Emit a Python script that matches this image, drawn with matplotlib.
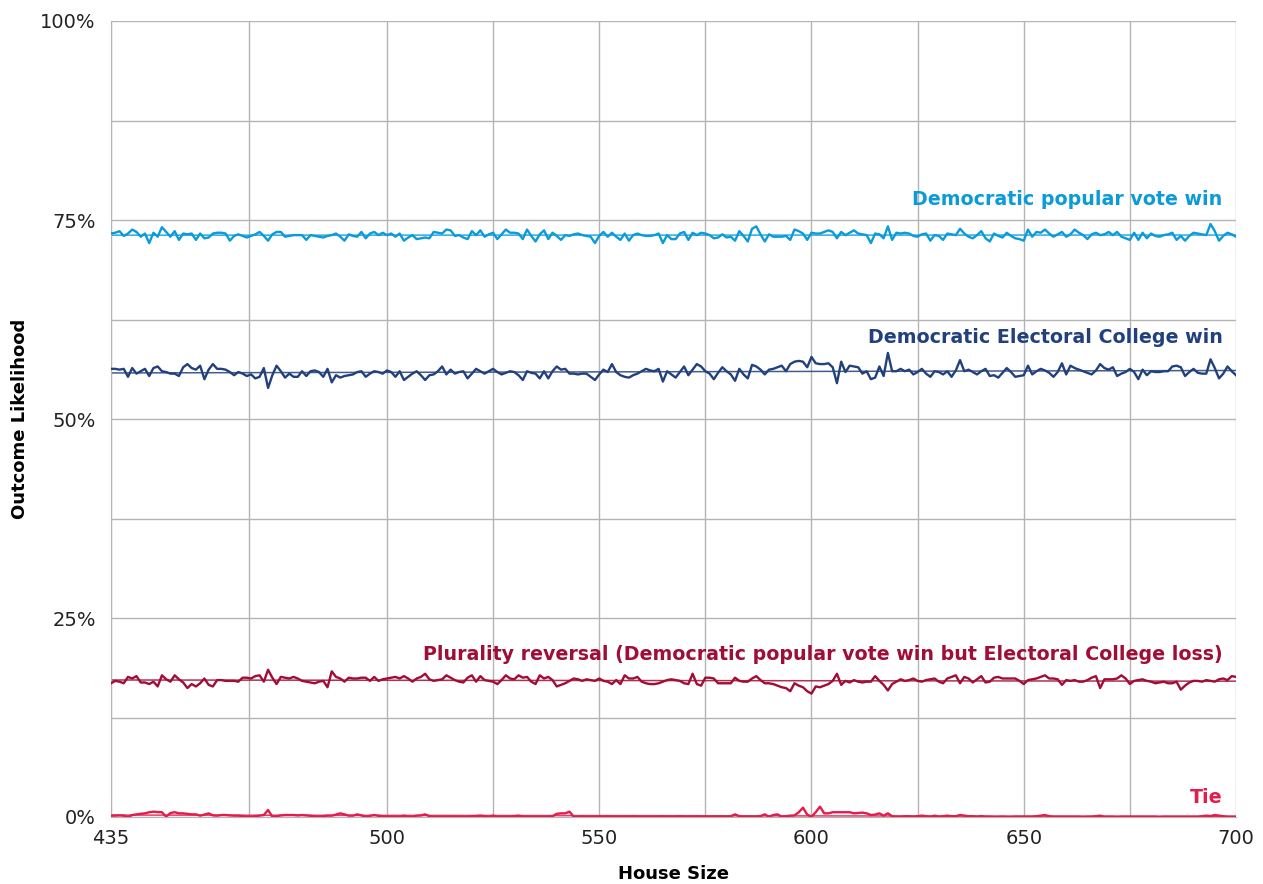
import numpy as np
import matplotlib
matplotlib.use("Agg")
import matplotlib.pyplot as plt
from matplotlib.ticker import FixedLocator, FuncFormatter

plt.rcParams['font.family'] = ['DejaVu Sans']

# house sizes 435..700
house = np.arange(435, 701)

# outcome likelihoods in %
pop_win = [
    73.3, 73.4, 73.6, 73.0, 73.3, 73.8, 73.5, 72.9, 73.3, 72.1,
    73.4, 72.9, 74.1, 73.5, 72.9, 73.6, 72.5, 73.3, 73.2, 73.3,
    72.5, 73.3, 72.7, 72.8, 73.3, 73.4, 73.4, 73.3, 72.4, 73.0,
    73.2, 73.0, 72.8, 73.0, 73.2, 73.5, 73.0, 72.4, 73.2, 73.5,
    73.5, 72.9, 73.0, 73.1, 73.1, 73.1, 72.5, 73.1, 73.0, 72.9,
    72.8, 73.0, 73.1, 73.3, 72.9, 72.4, 73.2, 73.0, 72.9, 73.5,
    72.7, 73.3, 73.5, 73.1, 73.4, 73.1, 73.3, 72.9, 73.3, 72.4,
    72.8, 73.1, 72.6, 72.7, 72.8, 72.7, 73.5, 73.4, 73.3, 73.8,
    73.7, 73.0, 73.1, 72.8, 72.6,
    73.6, 73.1, 73.7, 72.9, 73.2, 73.4, 72.6, 73.2, 73.8, 73.4,
    73.4, 73.3, 72.6, 73.8, 73.0, 72.3, 73.2, 73.7, 72.6, 73.4,
    73.0, 72.5, 73.1, 73.0, 73.2, 73.3, 73.1, 73.0, 72.9, 72.1,
    73.0, 73.5, 72.9, 73.4, 72.9, 72.5, 73.3, 72.4, 73.1, 73.3,
    73.1, 73.0, 73.0, 73.1, 73.3, 72.1, 73.1, 72.6, 72.6, 73.3,
    73.5, 72.5, 73.4, 73.1, 73.4, 73.3, 73.1, 72.7, 72.8, 73.2,
    72.8, 72.9, 72.4, 73.6, 73.0, 72.3, 73.9, 74.2, 73.2, 72.3,
    73.2, 72.9, 72.9, 72.9, 73.0, 72.5, 73.8, 73.6, 73.3, 72.5,
    73.4, 73.3, 73.3, 73.5, 73.7, 73.5, 72.7, 73.5, 73.1, 73.4,
    73.7, 73.3, 73.2, 73.1, 72.1, 73.3, 73.2, 72.7, 74.2, 72.5,
    73.4, 73.3, 73.4, 73.3, 73.0, 72.9, 73.2, 73.3, 72.4, 73.1,
    73.0, 72.5, 73.3, 73.2, 73.1, 73.9, 73.3, 72.9, 72.7, 73.1,
    73.6, 72.7, 72.3, 73.3, 73.0, 72.8, 73.4, 73.0, 72.7, 72.6,
    72.4, 73.8, 72.9, 73.5, 73.4, 73.8, 73.3, 72.9, 73.2, 73.5,
    72.9, 73.2, 73.8, 73.4, 73.1, 72.6, 73.2, 73.4, 73.1, 73.2,
    73.5, 73.1, 73.5, 72.9, 72.7, 72.5, 73.4, 72.5, 73.4, 72.7,
    73.3, 73.0, 72.9, 73.1, 73.2, 73.4, 72.5, 73.0, 72.4, 73.0,
    73.4, 73.3, 73.2, 73.1, 74.5, 73.6, 72.4, 73.0, 73.4, 73.2,
    72.9,
]

ec_win = [
    56.3, 56.3, 56.2, 56.3, 55.3, 56.4, 55.7, 56.0, 56.3, 55.4,
    56.4, 56.6, 56.0, 55.9, 55.7, 55.7, 55.4, 56.5, 56.9, 56.4,
    56.2, 56.7, 55.0, 56.2, 56.9, 56.3, 56.3, 56.2, 55.9, 55.5,
    55.9, 55.7, 55.4, 55.6, 55.1, 55.3, 56.4, 53.9, 55.5, 56.7,
    56.0, 55.2, 55.7, 55.3, 55.3, 56.0, 55.4, 56.0, 56.1, 55.9,
    55.3, 56.3, 54.6, 55.5, 55.2, 55.4, 55.5, 55.6, 55.9, 56.0,
    55.3, 55.7, 56.0, 55.9, 55.7, 56.1, 55.9, 55.3, 56.0, 54.9,
    55.3, 55.7, 56.0, 55.5, 54.9, 55.5, 55.6, 56.0, 56.6, 55.6,
    56.2, 55.7, 55.9, 56.0, 55.1, 55.7, 56.3, 56.0, 55.7, 56.0,
    56.3, 55.9, 55.6, 55.8, 56.0, 55.9, 55.5, 54.9, 56.0, 55.8,
    55.7, 55.1, 56.0, 55.1, 56.0, 56.6, 56.2, 56.3, 55.7, 55.7,
    55.6, 55.7, 55.7, 55.3, 54.9, 55.6, 56.2, 55.9, 56.9, 55.9,
    55.5, 55.3, 55.2, 55.5, 55.7, 56.0, 56.3, 56.1, 56.0, 56.3,
    54.7, 56.0, 55.6, 55.2, 55.9, 56.6, 55.5, 56.2, 56.9, 56.6,
    56.0, 55.7, 55.0, 55.8, 56.5, 56.0, 55.6, 54.8, 56.3, 55.6,
    55.1, 56.8, 56.6, 56.2, 55.6, 56.2, 56.3, 56.5, 56.7, 56.0,
    56.9, 57.2, 57.3, 57.2, 56.5, 57.8, 57.0, 56.9, 56.9, 57.0,
    56.5, 54.5, 57.2, 55.9, 56.7, 56.6, 56.5, 55.7, 56.0, 55.0,
    55.2, 56.6, 55.4, 58.3, 56.0, 56.0, 56.3, 56.0, 56.2, 55.6,
    55.9, 56.3, 55.7, 55.3, 56.0, 55.9, 55.6, 56.0, 55.3, 56.1,
    57.4, 56.0, 56.2, 55.9, 55.6, 56.0, 56.3, 55.4, 55.5, 55.2,
    55.8, 56.4, 55.9, 55.3, 55.4, 55.5, 56.7, 55.6, 56.0, 56.3,
    56.1, 55.8, 55.3, 55.9, 57.0, 55.6, 56.7, 56.4, 56.2, 56.0,
    55.8, 55.6, 56.1, 56.9, 56.4, 56.2, 56.5, 55.4, 55.7, 55.9,
    56.3, 55.9, 55.0, 56.2, 55.5, 56.0, 55.9, 55.9, 56.0, 56.0,
    56.6, 56.7, 56.5, 55.4, 55.9, 56.3, 55.8, 55.7, 55.7, 57.5,
    56.4, 55.1, 55.7, 56.6, 56.0, 55.5,
]

reversal = [
    16.8, 17.1, 17.0, 16.8, 17.6, 17.4, 17.7, 16.9, 16.9, 16.7,
    17.0, 16.4, 17.8, 17.3, 17.0, 17.8, 17.3, 16.9, 16.2, 16.7,
    16.4, 16.8, 17.4, 16.6, 16.4, 17.2, 17.2, 17.1, 17.1, 17.1,
    17.0, 17.5, 17.5, 17.4, 17.7, 17.8, 17.0, 18.5, 17.5, 16.7,
    17.6, 17.5, 17.4, 17.6, 17.4, 17.1, 17.0, 16.9, 16.8, 17.0,
    17.1, 16.3, 18.3, 17.6, 17.4, 17.0, 17.5, 17.4, 17.4, 17.5,
    17.5, 17.1, 17.6, 17.1, 17.3, 17.4, 17.5, 17.6, 17.4, 17.7,
    17.4, 17.0, 17.4, 17.6, 18.0, 17.3, 17.1, 17.2, 17.3, 17.8,
    17.5, 17.2, 17.0, 16.9, 17.5, 17.8, 17.0, 17.7, 17.2, 17.1,
    17.0, 16.7, 17.2, 17.8, 17.4, 17.3, 17.8, 17.5, 17.6, 17.0,
    16.7, 17.8, 17.4, 17.6, 17.2, 16.4, 16.6, 16.8, 17.1, 17.4,
    17.3, 17.1, 17.3, 17.2, 17.1, 17.4, 17.1, 17.0, 16.7, 17.2,
    16.7, 17.8, 17.4, 17.4, 17.6, 17.0, 16.8, 16.7, 16.7, 16.8,
    17.0, 17.2, 17.3, 17.2, 17.1, 16.8, 16.7, 18.0, 16.7, 16.5,
    17.5, 17.5, 17.4, 16.8, 16.8, 16.8, 16.8, 17.5, 17.1, 17.0,
    17.0, 17.4, 17.7, 17.2, 16.8, 16.8, 16.7, 16.5, 16.3, 16.2,
    15.8, 16.8, 16.5, 16.3, 15.8, 15.5, 16.4, 16.3, 16.5, 16.7,
    17.1, 18.0, 16.6, 17.1, 16.9, 17.2, 17.0, 16.9, 17.0, 17.0,
    17.7, 17.1, 16.6, 15.9, 16.7, 17.0, 17.3, 17.1, 17.2, 17.4,
    17.1, 17.0, 17.2, 17.3, 17.4, 17.0, 16.8, 17.4, 17.6, 17.8,
    16.8, 17.6, 17.4, 16.9, 17.3, 17.7, 16.9, 17.0, 17.5, 17.6,
    17.4, 17.4, 17.4, 17.4, 17.1, 16.7, 17.2, 17.3, 17.4, 17.6,
    17.8, 17.4, 17.4, 17.3, 16.6, 17.2, 17.1, 17.2, 17.0, 17.0,
    17.2, 17.5, 17.7, 16.2, 17.3, 17.3, 17.3, 17.4, 17.8, 17.4,
    16.7, 17.1, 17.2, 17.3, 17.1, 17.0, 16.8, 16.9, 17.0, 16.8,
    16.8, 17.0, 16.0, 16.5, 16.9, 17.1, 17.1, 17.0, 17.2, 17.1,
    17.0, 17.3, 17.4, 17.2, 17.7, 17.6,
]

tie = [
    0.17, 0.17, 0.20, 0.17, 0.00, 0.25, 0.33, 0.40, 0.46, 0.60,
    0.67, 0.62, 0.60, 0.04, 0.50, 0.60, 0.46, 0.46, 0.40, 0.33,
    0.33, 0.17, 0.30, 0.46, 0.20, 0.17, 0.25, 0.25, 0.20, 0.17,
    0.17, 0.12, 0.04, 0.00, 0.10, 0.17, 0.25, 0.88, 0.04, 0.10,
    0.20, 0.25, 0.25, 0.25, 0.20, 0.25, 0.20, 0.15, 0.08, 0.04,
    0.10, 0.17, 0.17, 0.30, 0.46, 0.33, 0.17, 0.17, 0.33, 0.20,
    0.04, 0.15, 0.25, 0.15, 0.10, 0.04, 0.08, 0.04, 0.04, 0.17,
    0.04, 0.04, 0.17, 0.20, 0.33, 0.10, 0.04, 0.04, 0.04, 0.04,
    0.04, 0.04, 0.04, 0.04, 0.04, 0.10, 0.12, 0.17, 0.10, 0.04,
    0.17, 0.04, 0.04, 0.04, 0.04, 0.10, 0.17, 0.04, 0.04, 0.04,
    0.04, 0.04, 0.04, 0.04, 0.10, 0.40, 0.46, 0.46, 0.67, 0.04,
    0.04, 0.08, 0.04, 0.04, 0.04, 0.04, 0.04, 0.08, 0.04, 0.04,
    0.04, 0.04, 0.04, 0.08, 0.04, 0.04, 0.04, 0.04, 0.04, 0.04,
    0.08, 0.04, 0.04, 0.04, 0.10, 0.04, 0.04, 0.04, 0.08, 0.04,
    0.04, 0.04, 0.04, 0.04, 0.04, 0.04, 0.10, 0.33, 0.10, 0.04,
    0.04, 0.04, 0.04, 0.12, 0.33, 0.04, 0.25, 0.33, 0.04, 0.10,
    0.17, 0.20, 0.60, 1.17, 0.30, 0.04, 0.60, 1.30, 0.46, 0.46,
    0.60, 0.60, 0.60, 0.60, 0.60, 0.46, 0.50, 0.55, 0.46, 0.25,
    0.30, 0.46, 0.17, 0.46, 0.10, 0.04, 0.04, 0.10, 0.10, 0.04,
    0.10, 0.17, 0.10, 0.04, 0.17, 0.04, 0.10, 0.17, 0.10, 0.10,
    0.25, 0.17, 0.10, 0.10, 0.04, 0.12, 0.04, 0.04, 0.00, 0.00,
    0.04, 0.00, 0.00, 0.04, 0.04, 0.04, 0.04, 0.04, 0.10, 0.17,
    0.25, 0.10, 0.04, 0.04, 0.04, 0.04, 0.04, 0.04, 0.04, 0.00,
    0.04, 0.04, 0.10, 0.17, 0.04, 0.04, 0.04, 0.00, 0.04, 0.04,
    0.04, 0.04, 0.04, 0.04, 0.04, 0.04, 0.04, 0.00, 0.04, 0.04,
    0.04, 0.04, 0.04, 0.04, 0.04, 0.04, 0.04, 0.10, 0.17, 0.12,
    0.25, 0.17, 0.10, 0.04, 0.04, 0.04,
]

series = [
    (pop_win, '#0a9bd8', 'Democratic popular vote win', 77.6),
    (ec_win, '#22407c', 'Democratic Electoral College win', 60.3),
    (reversal, '#a00d37', 'Plurality reversal (Democratic popular vote win but Electoral College loss)', 20.4),
    (tie, '#e31c4b', 'Tie', 2.4),
]

fig = plt.figure(figsize=(12.63, 8.84), dpi=100)
ax = fig.add_axes([111 / 1263, 1 - 817 / 884, 1125 / 1263, 796 / 884])

for vals, color, label, ylab in series:
    vals = np.array(vals[:len(house)])
    x = house[:len(vals)]
    ax.plot(x, vals, color=color, lw=1.7, zorder=3)
    # linear trend line
    k, b = np.polyfit(x, vals, 1)
    ax.plot(house, k * house + b, color=color, lw=1.1, alpha=0.85, zorder=2)
    ax.text(696.8, ylab, label, color=color, fontsize=13.7, fontweight='bold',
            ha='right', va='center')

ax.set_xlim(435, 700)
ax.set_ylim(0, 100)
ax.xaxis.set_major_locator(FixedLocator([435, 500, 550, 600, 650, 700]))
ax.xaxis.set_minor_locator(FixedLocator([467.5, 525, 575, 625, 675]))
ax.yaxis.set_major_locator(FixedLocator([0, 25, 50, 75, 100]))
ax.yaxis.set_minor_locator(FixedLocator([12.5, 37.5, 62.5, 87.5]))
ax.yaxis.set_major_formatter(FuncFormatter(lambda v, p: f'{v:.0f}%'))
ax.grid(True, which='both', color='#b4b4b4', lw=1.0)
ax.set_axisbelow(True)
ax.tick_params(which='both', length=0, labelsize=14, colors='#222222')
ax.tick_params(axis='x', pad=9)
ax.tick_params(axis='y', pad=11)
for s in ax.spines.values():
    s.set_color('#b4b4b4')
ax.spines['top'].set_visible(False)
ax.spines['right'].set_visible(False)

ax.set_xlabel('House Size', fontsize=13, fontweight='bold', labelpad=12)
ax.set_ylabel('Outcome Likelihood', fontsize=13, fontweight='bold', labelpad=8)

fig.savefig('out.png', dpi=100)
